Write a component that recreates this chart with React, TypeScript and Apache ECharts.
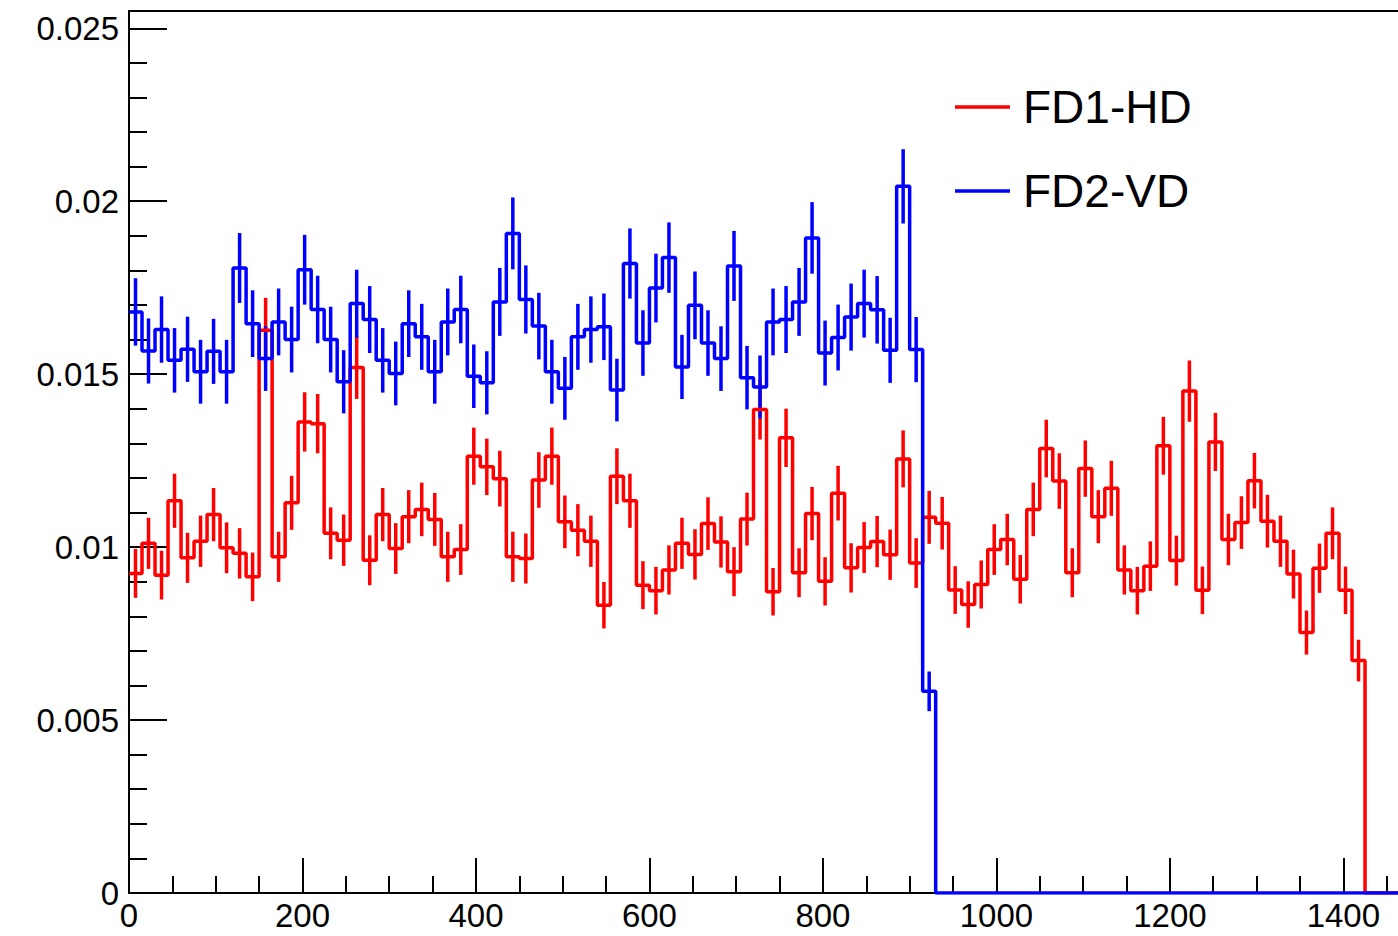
import React, { useEffect, useRef } from "react";
import * as echarts from "echarts";

const BIN_WIDTH = 15;
const X_MAX = 1463;
const Y_MAX = 0.0255;

const X_MAJOR_TICKS = [0, 200, 400, 600, 800, 1000, 1200, 1400];
const X_MINOR_TICKS = [50, 100, 150, 250, 300, 350, 450, 500, 550, 650, 700, 750, 850, 900, 950, 1050, 1100, 1150, 1250, 1300, 1350, 1450];
const Y_MAJOR_TICKS = [0, 0.005, 0.01, 0.015, 0.02, 0.025];
const Y_MINOR_TICKS = [0.001, 0.002, 0.003, 0.004, 0.006, 0.007, 0.008, 0.009, 0.011, 0.012, 0.013, 0.014, 0.016, 0.017, 0.018, 0.019, 0.021, 0.022, 0.023, 0.024];

const SERIES_NAMES = ["FD1-HD", "FD2-VD"];

// bin contents (bin width 15, starting at 0)
const FD1_HD = [
  0.00924, 0.01011, 0.00919, 0.01134, 0.00969, 0.01017, 0.01094, 0.00998, 0.00982, 0.00914,
  0.01627, 0.00972, 0.01128, 0.01362, 0.01357, 0.0104, 0.0102, 0.01519, 0.00962, 0.01094,
  0.00996, 0.01088, 0.01109, 0.0108, 0.00972, 0.00993, 0.01263, 0.01232, 0.01198, 0.00972,
  0.00967, 0.01194, 0.01263, 0.01073, 0.01049, 0.01017, 0.00832, 0.01205, 0.01134, 0.0089,
  0.00874, 0.00934, 0.01011, 0.00979, 0.01068, 0.01015, 0.00929, 0.01081, 0.01398, 0.00871,
  0.01316, 0.00926, 0.01097, 0.00901, 0.01156, 0.0094, 0.00999, 0.01016, 0.00978, 0.01255,
  0.00954, 0.01086, 0.01069, 0.00876, 0.00834, 0.00892, 0.00993, 0.01022, 0.00907, 0.01109,
  0.01285, 0.01191, 0.00926, 0.01227, 0.01088, 0.0117, 0.00934, 0.00874, 0.00945, 0.01293,
  0.00961, 0.01451, 0.00875, 0.01304, 0.01022, 0.01071, 0.01192, 0.01075, 0.01017, 0.00922,
  0.00753, 0.00939, 0.0104, 0.00875, 0.00672,
];

const FD2_VD = [
  0.0168, 0.01567, 0.01629, 0.0154, 0.01572, 0.01507, 0.01566, 0.01507, 0.01807, 0.01646,
  0.01545, 0.01651, 0.016, 0.01802, 0.01687, 0.016, 0.01478, 0.01704, 0.01658, 0.0154,
  0.01502, 0.01646, 0.01608, 0.01507, 0.01651, 0.01687, 0.01494, 0.01475, 0.01709, 0.01907,
  0.01716, 0.01639, 0.01507, 0.01459, 0.01608, 0.01629, 0.01637, 0.01454, 0.0182, 0.0159,
  0.01749, 0.01837, 0.01521, 0.01699, 0.0159, 0.01545, 0.01813, 0.0149, 0.01463, 0.01651,
  0.01658, 0.01709, 0.01894, 0.01561, 0.01606, 0.01665, 0.01704, 0.01686, 0.01569, 0.02043,
  0.01571, 0.00583,
];

// effective number of entries of each normalised histogram (Poisson errors)
const FD1_HD_ENTRIES = 18500;
const FD2_VD_ENTRIES = 17700;

const RED = "#ff0000";
const BLUE = "#0000ff";
const FONT = "'Liberation Sans', Arial, Helvetica, sans-serif";
const LINE_W = 3.5;

function stepPoints(values: number[]) {
  const pts: number[][] = [];
  const nBins = Math.ceil(X_MAX / BIN_WIDTH);
  for (let i = 0; i < nBins; i++) {
    pts.push([i * BIN_WIDTH, i < values.length ? values[i] : 0]);
  }
  pts.push([X_MAX, 0]);
  return pts;
}

function errorPoints(values: number[], entries: number) {
  return values.map((v, i) => [i * BIN_WIDTH + BIN_WIDTH / 2, v, Math.sqrt(v / entries)]);
}

function errorSeries(name: string, values: number[], entries: number, color: string) {
  return {
    name: name + " err",
    type: "custom",
    xAxisIndex: 0,
    yAxisIndex: 0,
    silent: true,
    data: errorPoints(values, entries),
    renderItem: (_p: any, api: any) => {
      const x = api.value(0);
      const v = api.value(1);
      const e = api.value(2);
      const a = api.coord([x, v - e]);
      const b = api.coord([x, v + e]);
      return {
        type: "line",
        shape: { x1: a[0], y1: a[1], x2: b[0], y2: b[1] },
        style: { stroke: color, lineWidth: LINE_W },
      };
    },
  };
}

const axisLineStyle = { color: "#000", width: 2 };

export default function App() {
  const ref = useRef<HTMLDivElement>(null);
  useEffect(() => {
    if (!ref.current) return;
    const chart = echarts.init(ref.current, null, { renderer: "svg" });
    chart.setOption({
      animation: false,
      backgroundColor: "#fff",
      grid: { left: 129, right: 0, top: 11, bottom: 43, containLabel: false, outerBoundsMode: "none" },
      legend: {
        data: SERIES_NAMES,
        orient: "vertical",
        left: 955,
        top: 84,
        padding: 0,
        itemWidth: 55,
        itemHeight: 3.5,
        itemGap: 38,
        icon: "rect",
        selectedMode: false,
        textStyle: { fontSize: 46, fontFamily: FONT, color: "#000", lineHeight: 46, padding: [0, 0, 0, 8] },
      },
      xAxis: [
        {
          type: "value",
          min: 0,
          max: X_MAX,
          position: "bottom",
          axisLine: { show: true, onZero: false, lineStyle: axisLineStyle },
          axisTick: { show: true, inside: true, length: 35, customValues: X_MAJOR_TICKS, lineStyle: axisLineStyle },
          axisLabel: {
            show: true,
            customValues: X_MAJOR_TICKS,
            fontSize: 33,
            fontFamily: FONT,
            color: "#000",
            margin: 6,
            formatter: (v: number) => String(v),
          },
          splitLine: { show: false },
        },
        {
          type: "value",
          min: 0,
          max: X_MAX,
          position: "bottom",
          axisLine: { show: false, onZero: false },
          axisTick: { show: true, inside: true, length: 17, customValues: X_MINOR_TICKS, lineStyle: axisLineStyle },
          axisLabel: { show: false },
          splitLine: { show: false },
        },
        {
          type: "value",
          min: 0,
          max: X_MAX,
          position: "top",
          axisLine: { show: true, onZero: false, lineStyle: axisLineStyle },
          axisTick: { show: false },
          axisLabel: { show: false },
          splitLine: { show: false },
        },
      ],
      yAxis: [
        {
          type: "value",
          min: 0,
          max: Y_MAX,
          position: "left",
          axisLine: { show: true, onZero: false, lineStyle: axisLineStyle },
          axisTick: { show: true, inside: true, length: 38, customValues: Y_MAJOR_TICKS, lineStyle: axisLineStyle },
          axisLabel: {
            show: true,
            customValues: Y_MAJOR_TICKS,
            fontSize: 33,
            fontFamily: FONT,
            color: "#000",
            margin: 10,
            formatter: (v: number) => String(Math.round(v * 1000) / 1000),
          },
          splitLine: { show: false },
        },
        {
          type: "value",
          min: 0,
          max: Y_MAX,
          position: "left",
          axisLine: { show: false, onZero: false },
          axisTick: { show: true, inside: true, length: 18, customValues: Y_MINOR_TICKS, lineStyle: axisLineStyle },
          axisLabel: { show: false },
          splitLine: { show: false },
        },
      ],
      series: [
        {
          name: SERIES_NAMES[0],
          type: "line",
          step: "end",
          xAxisIndex: 0,
          yAxisIndex: 0,
          showSymbol: false,
          symbol: "none",
          color: RED,
          lineStyle: { color: RED, width: LINE_W },
          data: stepPoints(FD1_HD),
        },
        errorSeries(SERIES_NAMES[0], FD1_HD, FD1_HD_ENTRIES, RED),
        {
          name: SERIES_NAMES[1],
          type: "line",
          step: "end",
          xAxisIndex: 0,
          yAxisIndex: 0,
          showSymbol: false,
          symbol: "none",
          color: BLUE,
          lineStyle: { color: BLUE, width: LINE_W },
          data: stepPoints(FD2_VD),
        },
        errorSeries(SERIES_NAMES[1], FD2_VD, FD2_VD_ENTRIES, BLUE),
      ],
    });
    return () => chart.dispose();
  }, []);
  return <div ref={ref} style={{ position: "fixed", left: 0, top: 0, width: 1398, height: 936 }} />;
}
